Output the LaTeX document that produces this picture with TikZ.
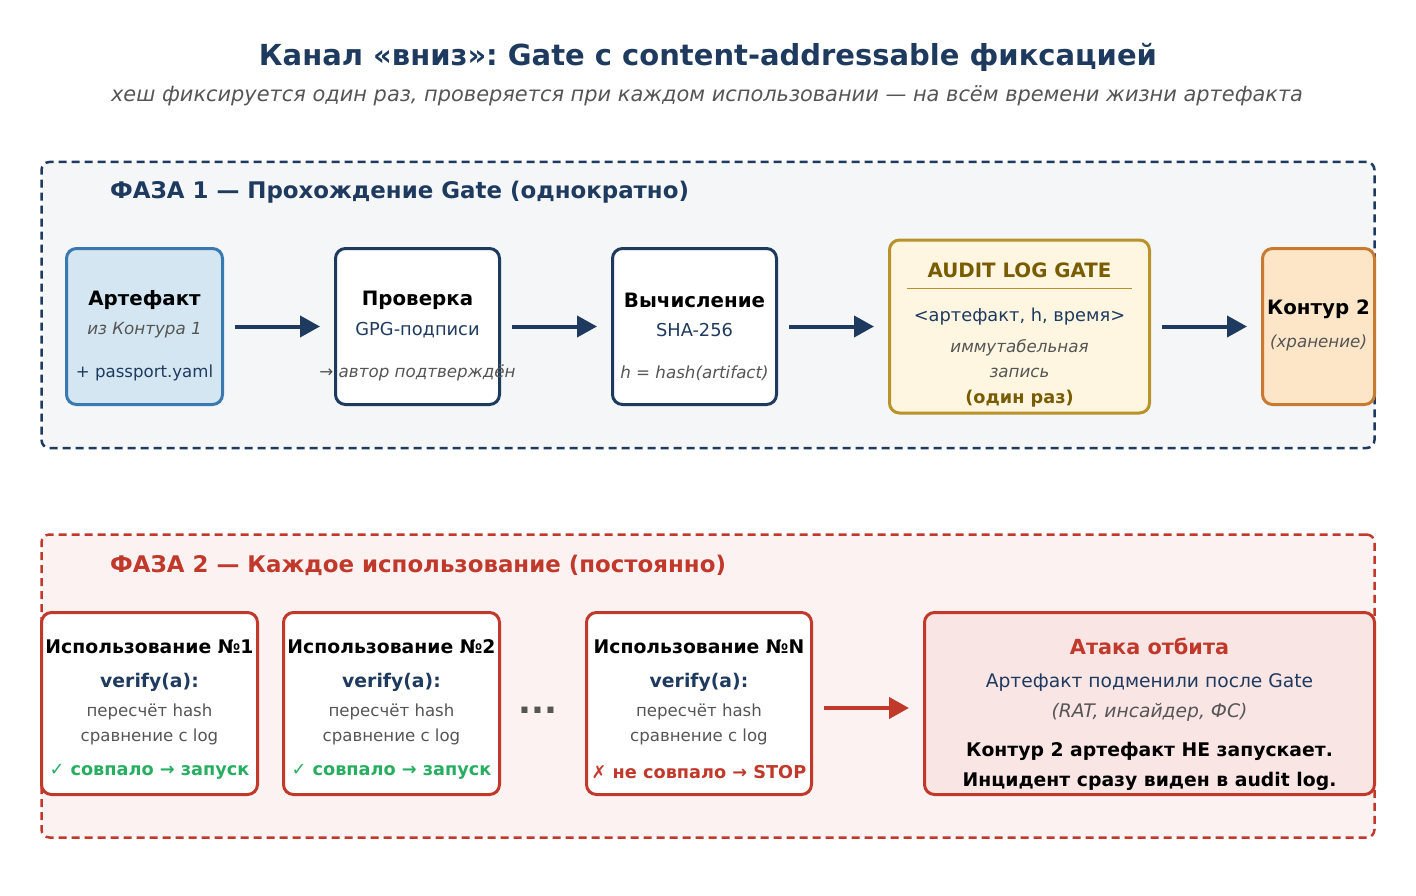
\documentclass[tikz,border=0pt]{standalone}
\usepackage{fontspec}
\setmainfont{DejaVu Sans}
\frenchspacing
\usetikzlibrary{arrows.meta,positioning,calc}
\definecolor{navy}{HTML}{1F3A5F}
\definecolor{steel}{HTML}{3A78B0}
\definecolor{steelbg}{HTML}{D4E6F1}
\definecolor{gold}{HTML}{B8922A}
\definecolor{goldtxt}{HTML}{7A5C00}
\definecolor{goldbg}{HTML}{FEF6E0}
\definecolor{amber}{HTML}{C87A30}
\definecolor{amberbg}{HTML}{FDE5C8}
\definecolor{alert}{HTML}{C0392B}
\definecolor{alertbg}{HTML}{FAE5E5}
\definecolor{phaseabg}{HTML}{F4F6F8}
\definecolor{phasebbg}{HTML}{FDF2F2}
\definecolor{greytxt}{HTML}{555555}
\definecolor{okgreen}{HTML}{27AE60}

\begin{document}
\begin{tikzpicture}[x=1pt, y=-1pt,
    phase/.style={draw, dash pattern=on 8pt off 5pt, line width=2.5pt, rounded corners=8pt, inner sep=0pt},
    box/.style={draw=navy, fill=white, line width=3pt, rounded corners=10pt, inner sep=0pt, minimum height=156pt},
    ubox/.style={draw=alert, fill=white, line width=3pt, rounded corners=10pt, inner sep=0pt, minimum height=182pt},
    txt/.style={inner sep=0pt, text=navy, font=\fontsize{17.8}{21}\selectfont},
    head/.style={inner sep=0pt, font=\fontsize{19.8}{24}\selectfont\bfseries},
    note/.style={inner sep=0pt, text=greytxt, font=\fontsize{16.7}{20}\selectfont\itshape},
    small/.style={inner sep=0pt, text=greytxt, font=\fontsize{16.6}{20}\selectfont},
    verdict/.style={inner sep=0pt, font=\fontsize{17.7}{21}\selectfont\bfseries},
    arr/.style={-{Triangle[length=20pt,width=21pt]}, line width=4pt, shorten <=11pt, shorten >=14pt}
]
\useasboundingbox (0,0) rectangle (1416,896);

% title
\node[inner sep=0pt, text=navy, font=\fontsize{29}{34}\selectfont\bfseries] (title) at (708,57) {Канал «вниз»: Gate с content-addressable фиксацией};
\node[note, font=\fontsize{20.9}{25}\selectfont\itshape] (subtitle) at (707,96) {хеш фиксируется один раз, проверяется при каждом использовании — на всём времени жизни артефакта};

% phase 1
\node[phase, draw=navy, fill=phaseabg, minimum width=1333pt, minimum height=286pt] (ph1) at (708,305) {};
\node[head, text=navy, font=\fontsize{22.9}{27}\selectfont\bfseries, anchor=west] (ph1t) at (110,192) {ФАЗА 1 — Прохождение Gate (однократно)};

\node[box, draw=steel, fill=steelbg, minimum width=156pt] (art) at (144.5,326.5) {};
\node[head] (art1) at (144.5,300) {Артефакт};
\node[note] (art2) at (144.5,330) {из Контура 1};
\node[txt, font=\fontsize{16.6}{20}\selectfont] (art3) at (144.5,373) {+ passport.yaml};

\node[box, minimum width=164pt] (chk) at (417.5,326.5) {};
\node[head] (chk1) at (417.5,300) {Проверка};
\node[txt] (chk2) at (417.5,330) {GPG-подписи};
\node[note] (chk3) at (417.5,373) {→ автор подтверждён};

\node[box, minimum width=164pt] (hsh) at (694.5,326.5) {};
\node[head] (hsh1) at (694.5,300) {Вычисление};
\node[txt] (hsh2) at (694.5,330) {SHA-256};
\node[note] (hsh3) at (694.5,373) {h = hash(artifact)};

\node[box, draw=gold, fill=goldbg, minimum width=260pt, minimum height=173pt] (log) at (1019.5,326.5) {};
\node[head, text=goldtxt] (log1) at (1019.5,270) {AUDIT LOG GATE};
\draw[gold, line width=1pt] (907,288) -- (1132,288);
\node[txt] (log2) at (1019.5,317) {<артефакт, h, время>};
\node[note] (log3) at (1019.5,348) {иммутабельная};
\node[note] (log4) at (1019.5,373) {запись};
\node[verdict, text=goldtxt] (log5) at (1019.5,399) {(один раз)};

\node[box, draw=amber, fill=amberbg, minimum width=112pt] (k2) at (1318.5,326.5) {};
\node[head] (k21) at (1318.5,309) {Контур 2};
\node[note] (k22) at (1318.5,343) {(хранение)};

\draw[arr, navy] (art.east) -- (chk.west);
\draw[arr, navy] (chk.east) -- (hsh.west);
\draw[arr, navy] (hsh.east) -- (log.west);
\draw[arr, navy] (log.east) -- (k2.west);

% phase 2
\node[phase, draw=alert, fill=phasebbg, minimum width=1333pt, minimum height=303pt] (ph2) at (708,686) {};
\node[head, text=alert, font=\fontsize{22.9}{27}\selectfont\bfseries, anchor=west] (ph2t) at (110,565) {ФАЗА 2 — Каждое использование (постоянно)};

\node[ubox, minimum width=216pt] (use1) at (149.5,703.5) {};
\node[head, font=\fontsize{18.8}{23}\selectfont\bfseries] (use1a) at (149.5,647) {Использование №1};
\node[head, text=navy, font=\fontsize{18.8}{23}\selectfont\bfseries] (use1b) at (149.5,682) {verify(a):};
\node[small] (use1c) at (149.5,712) {пересчёт hash};
\node[small] (use1d) at (149.5,737) {сравнение с log};
\node[verdict, text=okgreen] (use1e) at (149.5,772) {✓ совпало → запуск};

\node[ubox, minimum width=216pt] (use2) at (391.5,703.5) {};
\node[head, font=\fontsize{18.8}{23}\selectfont\bfseries] (use2a) at (391.5,647) {Использование №2};
\node[head, text=navy, font=\fontsize{18.8}{23}\selectfont\bfseries] (use2b) at (391.5,682) {verify(a):};
\node[small] (use2c) at (391.5,712) {пересчёт hash};
\node[small] (use2d) at (391.5,737) {сравнение с log};
\node[verdict, text=okgreen] (use2e) at (391.5,772) {✓ совпало → запуск};

\node[inner sep=0pt, text=greytxt, font=\fontsize{34}{40}\selectfont\bfseries] (dots) at (538,710) {...};

\node[ubox, minimum width=225pt] (usen) at (699,703.5) {};
\node[head, font=\fontsize{18.8}{23}\selectfont\bfseries] (usena) at (699,647) {Использование №N};
\node[head, text=navy, font=\fontsize{18.8}{23}\selectfont\bfseries] (usenb) at (699,682) {verify(a):};
\node[small] (usenc) at (699,712) {пересчёт hash};
\node[small] (usend) at (699,737) {сравнение с log};
\node[verdict, text=alert] (usene) at (699,772) {✗ не совпало → STOP};

\node[ubox, fill=alertbg, minimum width=450pt] (atk) at (1149.5,703.5) {};
\node[head, text=alert, font=\fontsize{20.8}{25}\selectfont\bfseries] (atk1) at (1149.5,646) {Атака отбита};
\node[txt, font=\fontsize{18.7}{22}\selectfont] (atk2) at (1149.5,682) {Артефакт подменили после Gate};
\node[note, font=\fontsize{18.7}{22}\selectfont\itshape] (atk3) at (1149.5,712) {(RAT, инсайдер, ФС)};
\node[head, font=\fontsize{18.8}{23}\selectfont\bfseries] (atk4) at (1149.5,751) {Контур 2 артефакт НЕ запускает.};
\node[head, font=\fontsize{18.8}{23}\selectfont\bfseries] (atk5) at (1149.5,781) {Инцидент сразу виден в audit log.};

\draw[arr, alert] ([yshift=-4.5pt]usen.east) -- ([yshift=-4.5pt]atk.west);
\end{tikzpicture}
\end{document}
